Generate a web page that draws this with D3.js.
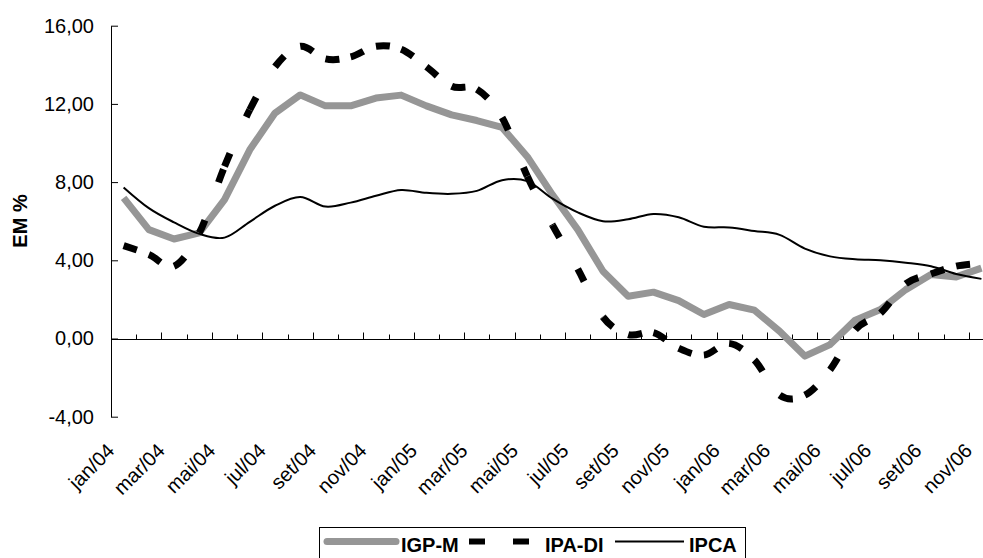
<!DOCTYPE html>
<html>
<head>
<meta charset="utf-8" />
<title>IGP-M, IPA-DI e IPCA</title>
<style>
  body { margin: 0; background: #fff; }
  text { font-family: 'Liberation Sans', Arial, sans-serif; fill: #000; }
</style>
<script src="https://d3js.org/d3.v7.min.js"></script>
</head>
<body>
<svg width="983" height="558"></svg>
<script>
// categorias (meses) e séries, em %
var categories = [
  'jan/04', 'fev/04', 'mar/04', 'abr/04', 'mai/04', 'jun/04', 'jul/04', 'ago/04', 'set/04', 'out/04', 'nov/04', 'dez/04',
  'jan/05', 'fev/05', 'mar/05', 'abr/05', 'mai/05', 'jun/05', 'jul/05', 'ago/05', 'set/05', 'out/05', 'nov/05', 'dez/05',
  'jan/06', 'fev/06', 'mar/06', 'abr/06', 'mai/06', 'jun/06', 'jul/06', 'ago/06', 'set/06', 'out/06', 'nov/06'
]
var igpm = [7.19, 5.57, 5.09, 5.40, 7.10, 9.65, 11.53, 12.46, 11.90, 11.90, 12.30, 12.45,
  11.90, 11.44, 11.15, 10.80, 9.30, 7.35, 5.57, 3.44, 2.16, 2.37, 1.94, 1.23,
  1.74, 1.45, 0.37, -0.90, -0.31, 0.94, 1.48, 2.50, 3.27, 3.15, 3.60]
var ipadi = [4.75, 4.30, 3.70, 5.40, 8.80, 11.70, 13.90, 14.95, 14.30, 14.40, 14.95, 14.80,
  13.90, 12.90, 12.75, 11.30, 8.30, 5.80, 3.56, 1.10, 0.20, 0.30, -0.50, -0.85,
  -0.25, -1.10, -2.90, -2.90, -1.60, 0.45, 1.30, 2.80, 3.30, 3.70, 3.85]
var ipca = [7.73, 6.67, 5.94, 5.35, 5.16, 5.97, 6.79, 7.24, 6.75, 6.95, 7.30, 7.60,
  7.45, 7.40, 7.55, 8.10, 8.05, 7.15, 6.45, 6.00, 6.10, 6.37, 6.20, 5.72,
  5.68, 5.50, 5.30, 4.60, 4.20, 4.05, 4.00, 3.88, 3.70, 3.30, 3.05]
var yTicks = [-4, 0, 4, 8, 12, 16]
var seriesNames = ['IGP-M', 'IPA-DI', 'IPCA']

var svg = d3.select('svg')
var left = 111, step = 25.23

var x = d3.scaleBand().domain(categories).range([left, left + categories.length * step])
var y = d3.scaleLinear().domain([-4, 16]).range([416.7, 25.7])
function cx(i) { return x(categories[i]) + x.bandwidth() / 2 }
var fmt = function (d) { return d3.format('.2f')(d).replace('.', ',').replace('\u2212', '-') }

// eixo y
var yAxis = svg.append('g')
  .attr('transform', 'translate(' + left + ',0)')
  .call(d3.axisLeft(y).tickValues(yTicks).tickSizeInner(-7).tickSizeOuter(0).tickPadding(17).tickFormat(fmt))
yAxis.attr('font-family', null).attr('font-size', null)
yAxis.selectAll('text').style('font-size', '20px')
yAxis.selectAll('path, line').attr('stroke', '#000')

svg.append('text')
  .attr('transform', 'translate(27,221) rotate(-90)')
  .attr('text-anchor', 'middle')
  .style('font-size', '20px')
  .style('font-weight', 'bold')
  .text('EM %')

// eixo x (na linha do zero)
var y0 = Math.round(y(0)) + 0.5
svg.append('line')
  .attr('x1', left + 0.5).attr('x2', x.range()[1])
  .attr('y1', y0).attr('y2', y0)
  .attr('stroke', '#000')
svg.selectAll('.xtick')
  .data(d3.range(1, categories.length + 1))
  .enter()
  .append('line')
  .attr('class', 'xtick')
  .attr('x1', function (k) { return Math.round(x.range()[0] + k * x.step()) + 0.5 })
  .attr('x2', function (k) { return Math.round(x.range()[0] + k * x.step()) + 0.5 })
  .attr('y1', y0)
  .attr('y2', function (k) { return y0 - (k % 2 === 0 ? 7 : 5) })
  .attr('stroke', '#000')

svg.selectAll('.xlabel')
  .data(categories.filter(function (d, i) { return i % 2 === 0 }))
  .enter()
  .append('text')
  .attr('class', 'xlabel')
  .attr('text-anchor', 'end')
  .attr('transform', function (d) {
    return 'translate(' + (x(d) + x.bandwidth() / 2 - 8) + ',452) rotate(-45)'
  })
  .style('font-size', '20px')
  .text(function (d) { return d })

// IGP-M
var straight = d3.line()
  .x(function (d, i) { return cx(i) })
  .y(function (d) { return y(d) })
svg.append('path')
  .attr('d', straight(igpm))
  .attr('fill', 'none')
  .attr('stroke', '#969696')
  .attr('stroke-width', 7)
  .attr('stroke-linejoin', 'round')

// IPA-DI: suavizada, o tracejado recomeça em cada segmento
var pts = ipadi.map(function (d, i) { return [cx(i), y(d)] })
var segs = pts.slice(0, -1).map(function (p, i) {
  var a = pts[Math.max(i - 1, 0)], b = pts[i + 1], c = pts[Math.min(i + 2, pts.length - 1)]
  var path = d3.path()
  path.moveTo(p[0], p[1])
  path.bezierCurveTo(
    p[0] + (b[0] - a[0]) / 6, p[1] + (b[1] - a[1]) / 6,
    b[0] - (c[0] - p[0]) / 6, b[1] - (c[1] - p[1]) / 6,
    b[0], b[1])
  return path.toString()
})
svg.selectAll('.ipadi')
  .data(segs)
  .enter()
  .append('path')
  .attr('class', 'ipadi')
  .attr('d', function (d) { return d })
  .attr('fill', 'none')
  .attr('stroke', '#000')
  .attr('stroke-width', 7)
  .attr('stroke-dasharray', '14,40')

// IPCA
var smooth = d3.line()
  .x(function (d, i) { return cx(i) })
  .y(function (d) { return y(d) })
  .curve(d3.curveCardinal.tension(0))
svg.append('path')
  .attr('d', smooth(ipca))
  .attr('fill', 'none')
  .attr('stroke', '#000')
  .attr('stroke-width', 2)

// legenda
var legend = svg.append('g')
legend.append('rect')
  .attr('x', 319.5).attr('y', 527.5)
  .attr('width', 426).attr('height', 40)
  .attr('fill', '#fff').attr('stroke', '#000')
legend.append('line')
  .attr('x1', 327).attr('x2', 396).attr('y1', 541.5).attr('y2', 541.5)
  .attr('stroke', '#969696').attr('stroke-width', 7).attr('stroke-linecap', 'round')
legend.append('line')
  .attr('x1', 469).attr('x2', 529).attr('y1', 541.5).attr('y2', 541.5)
  .attr('stroke', '#000').attr('stroke-width', 6).attr('stroke-dasharray', '16,28')
legend.append('line')
  .attr('x1', 615).attr('x2', 684).attr('y1', 541.5).attr('y2', 541.5)
  .attr('stroke', '#000').attr('stroke-width', 2)
legend.selectAll('.ltext')
  .data(seriesNames)
  .enter()
  .append('text')
  .attr('class', 'ltext')
  .attr('x', function (d, i) { return [401, 545, 689][i] })
  .attr('y', 552)
  .style('font-size', '20px')
  .style('font-weight', 'bold')
  .text(function (d) { return d })
</script>
</body>
</html>
